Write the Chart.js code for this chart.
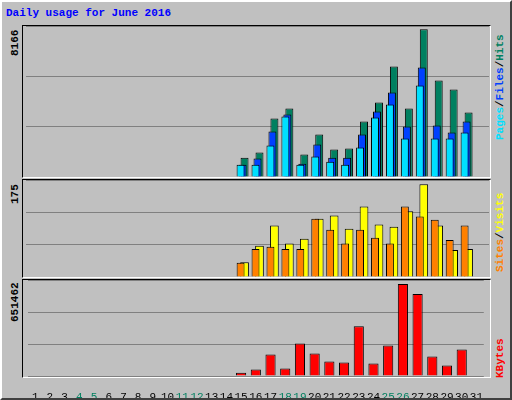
<!DOCTYPE html>
<html>
<head>
<meta charset="utf-8">
<script src="https://cdn.jsdelivr.net/npm/chart.js@4"></script>
<style>
  body { margin: 0; background: #c0c0c0; }
  #frame { position: absolute; left: 0; top: 0; width: 508px; height: 396px; background: #c0c0c0;
    border: 2px solid; border-color: #ffffff #404040 #404040 #ffffff; }
  .panel { position: absolute; left: 22px; width: 467px; background: #c0c0c0;
    border: 1px solid; border-color: #000 #fff #fff #000; }
  canvas { position: absolute; }
  .txt { position: absolute; font: bold 11px "Liberation Mono", "DejaVu Sans Mono", monospace; white-space: nowrap;
    transform-origin: 0 0; transform: rotate(-90deg); }
  #title { position: absolute; left: 6px; top: 7px; color: #0000ff; font: bold 11px "Liberation Mono", monospace; }
</style>
</head>
<body>
<div id="frame"></div>
<div id="title">Daily usage for June 2016</div>
<div class="panel" style="top:25px;height:151px"></div>
<div class="panel" style="top:179px;height:97px"></div>
<div class="panel" style="top:279px;height:97px"></div>
<canvas id="c1" style="left:26px;top:26px;width:463px;height:151px"></canvas>
<canvas id="c2" style="left:26px;top:180px;width:463px;height:97px"></canvas>
<canvas id="c3" style="left:26px;top:280px;width:463px;height:118px"></canvas>
<div class="txt" style="left:9px;top:56px">8166</div>
<div class="txt" style="left:9px;top:204px">175</div>
<div class="txt" style="left:9px;top:322px">651462</div>
<div class="txt" style="left:494px;top:140px"><span style="color:#00e0ff">Pages</span>/<span style="color:#0040ff">Files</span>/<span style="color:#008060">Hits</span></div>
<div class="txt" style="left:494px;top:272px"><span style="color:#ff8000">Sites</span>/<span style="color:#ffff00">Visits</span></div>
<div class="txt" style="left:494px;top:378px"><span style="color:#ff0000">KBytes</span></div>
<script>
const days = Array.from({ length: 31 }, (_, i) => String(i + 1));
const weekend = ["4", "5", "11", "12", "18", "19", "25", "26"];
const pad = (v) => Array(14).fill(null).concat(v, [null]);

const hits = pad([1071, 1348, 3232, 3787, 1238, 2346, 1515, 1570, 3067, 4119, 6115, 3787, 8166, 5339, 4840, 3565]);
const files = pad([683, 1016, 2512, 3454, 739, 1792, 1071, 1071, 2346, 3621, 4674, 2789, 6059, 2845, 2457, 3067]);
const pages = pad([683, 683, 1736, 3343, 683, 1127, 850, 683, 1626, 3288, 4009, 2124, 5062, 2124, 2124, 2457]);
const visits = pad([28, 59, 97, 63, 72, 110, 116, 91, 133, 99, 95, 124, 175, 97, 51, 53]);
const sites = pad([27, 53, 57, 53, 53, 110, 89, 63, 89, 74, 63, 133, 114, 108, 70, 97]);
const kbytes = pad([23776, 45174, 152166, 52307, 230627, 159299, 102237, 95104, 351885, 87971, 216362, 651462, 580134, 137901, 73706, 187830]);

Chart.defaults.animation = false;
Chart.defaults.plugins.legend.display = false;
Chart.defaults.plugins.tooltip.enabled = false;

// lower order is drawn on top
function ds(data, color, cat, bar, order) {
  return { data, backgroundColor: color, borderColor: "#000", borderWidth: 1,
    categoryPercentage: cat, barPercentage: bar, order };
}

function yScale(max) {
  return {
    min: 0, max: max, afterFit: (s) => { s.width = 0; },
    ticks: { display: false, stepSize: max / 3 },
    grid: { color: "#808080", lineWidth: 1, drawTicks: false },
    border: { display: false },
  };
}

function panel(id, datasets, max, showX) {
  return new Chart(document.getElementById(id), {
    type: "bar",
    data: { labels: days, datasets },
    options: {
      responsive: false, maintainAspectRatio: false,
      layout: { padding: 0 },
      scales: {
        x: {
          display: showX,
          afterFit: (s) => { if (showX) s.height = 22; },
          grid: { display: false }, border: { display: false },
          ticks: {
            padding: 6, autoSkip: false, maxRotation: 0,
            font: { family: "Liberation Mono", size: 11 },
            color: (c) => (weekend.includes(days[c.index]) ? "#008060" : "#000"),
          },
        },
        y: yScale(max),
      },
    },
  });
}

function sizeCanvas(id) {
  const c = document.getElementById(id);
  c.width = parseInt(c.style.width);
  c.height = parseInt(c.style.height);
}
["c1", "c2", "c3"].forEach(sizeCanvas);

panel("c1", [ds(hits, "#008060", 0.4, 4, 3), ds(files, "#0040ff", 0.4, 4, 2), ds(pages, "#00e0ff", 0.4, 4, 1)], 8349, false);
panel("c2", [ds(visits, "#ffff00", 0.53, 2.2, 2), ds(sites, "#ff8000", 0.53, 2, 1)], 183, false);
panel("c3", [ds(kbytes, "#ff0000", 1, 0.69, 1)], 680000, true);
</script>
</body>
</html>
